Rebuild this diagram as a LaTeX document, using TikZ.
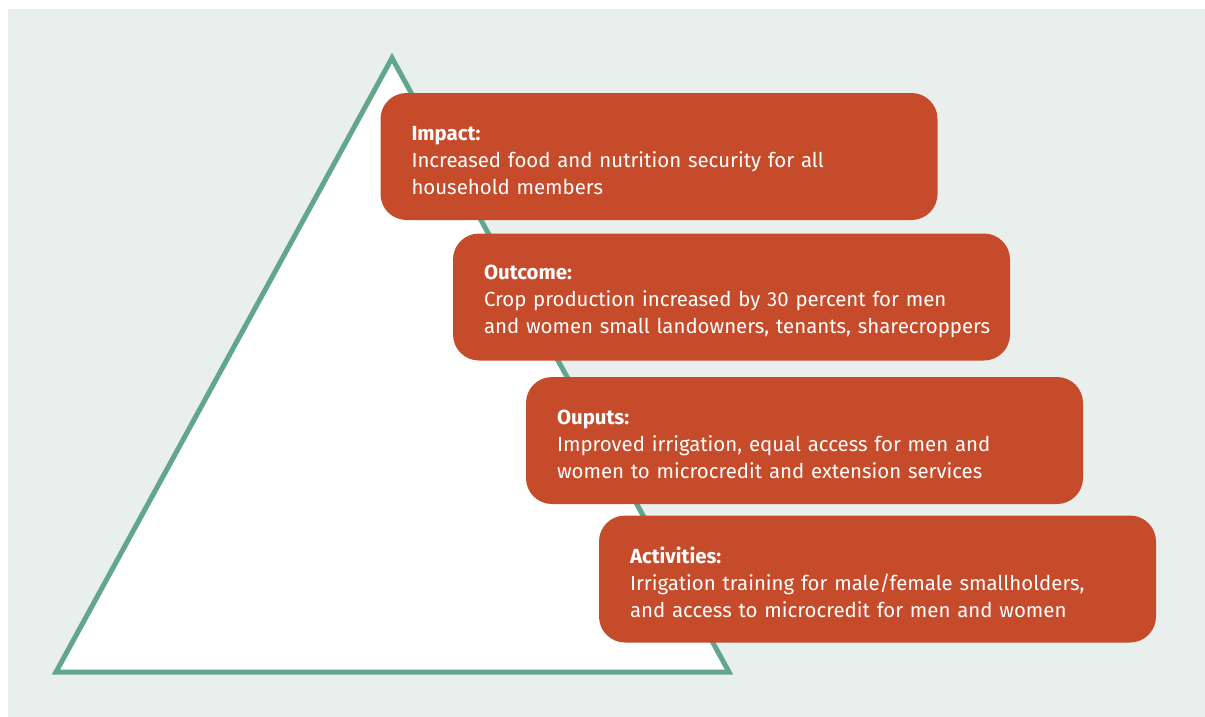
\documentclass[tikz,border=0pt]{standalone}
\usepackage{fontspec}
\setmainfont{Fira Sans}
\definecolor{bgcol}{HTML}{E8EFED}
\definecolor{trigreen}{HTML}{62A68E}
\definecolor{boxred}{HTML}{C54B2B}
\newcommand\levelhead[1]{\rule{0pt}{23pt}\textbf{#1}}
\begin{document}
\begin{tikzpicture}[x=1pt,y=-1pt]
    \tikzstyle{level} = [rectangle, rounded corners=26pt, fill=boxred, text=white,
      minimum width=557pt, minimum height=127pt, text width=495pt, inner xsep=31pt,
      align=left, font=\fontsize{20.4}{27}\selectfont]
    \tikzstyle{pyramid} = [draw=trigreen, line width=5pt, fill=white, miter limit=10]
    \useasboundingbox (0,0) rectangle (1205,717);
    \fill[bgcol] (8,9) rectangle (1205,717);
    % the pyramid behind the boxes
    \coordinate (top) at (392,58);
    \coordinate (left) at (56,672);
    \coordinate (right) at (729,672);
    \draw[pyramid] (top) -- (left) -- (right) -- cycle;
    \node[level] (impact) at (659,156.5)
      {\levelhead{Impact:}\\Increased food and nutrition security for all\\household members};
    \node[level] (outcome) at (731.5,297)
      {\levelhead{Outcome:}\\Crop production increased by 30 percent for men\\\mbox{and women small landowners, tenants, sharecroppers}};
    \node[level] (outputs) at (804.5,440.5)
      {\levelhead{Ouputs:}\\Improved irrigation, equal access for men and\\women to microcredit and extension services};
    \node[level] (activities) at (877.5,579)
      {\levelhead{Activities:}\\Irrigation training for male/female smallholders,\\and access to microcredit for men and women};
\end{tikzpicture}
\end{document}
